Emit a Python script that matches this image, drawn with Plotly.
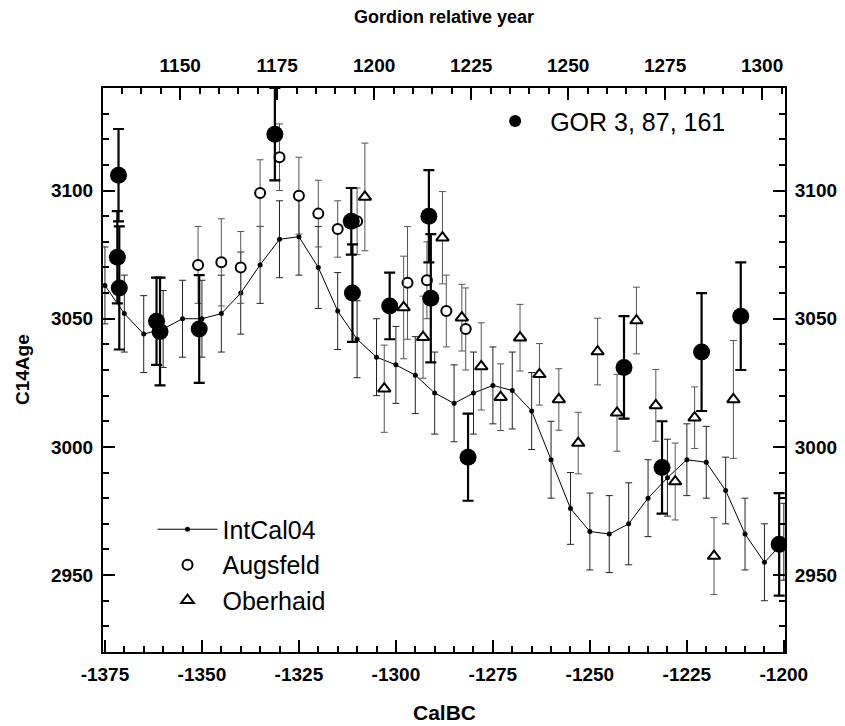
import plotly.graph_objects as go

# ---------------- data ----------------
intcal_x = [-1375, -1370, -1365, -1360, -1355, -1350, -1345, -1340, -1335, -1330,
            -1325, -1320, -1315, -1310, -1305, -1300, -1295, -1290, -1285, -1280,
            -1275, -1270, -1265, -1260, -1255, -1250, -1245, -1240, -1235, -1230,
            -1225, -1220, -1215, -1210, -1205, -1200]
intcal_y = [3063, 3052, 3044, 3046, 3050, 3050, 3052, 3060, 3071, 3081,
            3082, 3070, 3053, 3042, 3035, 3032, 3028, 3021, 3017, 3021,
            3024, 3022, 3014, 2995, 2976, 2967, 2966, 2970, 2980, 2988,
            2995, 2994, 2983, 2966, 2955, 2963]
intcal_err = [15, 15, 15, 15, 15, 15, 15, 16, 15, 15,
              15, 16, 15, 15, 15, 15, 15, 16, 15, 16,
              15, 15, 15, 15, 14, 15, 15, 16, 15, 15,
              14, 14, 13, 14, 15, 15]

augs_x = [-1351, -1345, -1340, -1335, -1330, -1325, -1320, -1315, -1310,
          -1297, -1292, -1287, -1282]
augs_y = [3071, 3072, 3070, 3099, 3113, 3098, 3091, 3085, 3088,
          3064, 3065, 3053, 3046]
augs_err = [15, 17, 14, 13, 13, 15, 13, 11, 13,
            22, 15, 14, 16]

ober_x = [-1308, -1303, -1298, -1293, -1288, -1283, -1278, -1273, -1268, -1263,
          -1258, -1253, -1248, -1243, -1238, -1233, -1228, -1223, -1218, -1213]
ober_y = [3097.5, 3022.7, 3054.4, 3042.8, 3081.6, 3050.4, 3031.4, 3019.4, 3042.6, 3028.3,
          3018.5, 3001.5, 3037.2, 3013.3, 3049.3, 3016.2, 2986.5, 3011.4, 2957.4, 3018.5]
ober_err = [21, 17, 20, 16, 18, 13, 17, 13, 13, 12,
            12, 12, 13, 15, 13, 14, 15, 12, 15, 23]

gor_x = [-1371.5, -1371.8, -1371.3, -1361.7, -1360.8, -1350.7, -1331.2, -1311.5, -1311.2,
         -1301.6, -1291.5, -1291.0, -1281.4, -1241.2, -1231.4, -1221.2, -1211.1, -1201.2]
gor_y = [3106, 3074, 3062, 3049, 3045, 3046, 3122, 3088, 3060,
         3055, 3090, 3058, 2996, 3031, 2992, 3037, 3051, 2962]
gor_err = [18, 18, 24, 17, 21, 21, 18, 13, 19,
           13, 18, 25, 17, 20, 18, 23, 21, 20]

x_tick_vals = [-1375, -1350, -1325, -1300, -1275, -1250, -1225, -1200]
x_tick_text = ["-1375", "-1350", "-1325", "-1300", "-1275", "-1250", "-1225", "-1200"]
top_tick_vals = [1150, 1175, 1200, 1225, 1250, 1275, 1300]
top_tick_text = ["1150", "1175", "1200", "1225", "1250", "1275", "1300"]
y_tick_vals = [2950, 3000, 3050, 3100]
y_tick_text = ["2950", "3000", "3050", "3100"]

x_range = [-1375.5, -1199.7]
gordion_offset = 2505.6
y_range = [2920, 3140]

FONT = "Liberation Sans, Arial, sans-serif"

fig = go.Figure()

fig.add_trace(go.Scatter(
    x=intcal_x, y=intcal_y, name="IntCal04", mode="lines+markers",
    line=dict(color="black", width=1),
    marker=dict(size=5, color="black"),
    error_y=dict(type="data", array=intcal_err, color="#222", thickness=1, width=3.5),
    legend="legend"))

fig.add_trace(go.Scatter(
    x=augs_x, y=augs_y, name="Augsfeld", mode="markers",
    marker=dict(symbol="circle", size=10, color="white", line=dict(color="black", width=2)),
    error_y=dict(type="data", array=augs_err, color="#555", thickness=1, width=3.5),
    legend="legend"))

fig.add_trace(go.Scatter(
    x=ober_x, y=ober_y, name="Oberhaid", mode="markers",
    marker=dict(symbol="triangle-up", size=11, color="white", line=dict(color="black", width=2)),
    error_y=dict(type="data", array=ober_err, color="#555", thickness=1, width=3.5),
    legend="legend"))

fig.add_trace(go.Scatter(
    x=gor_x, y=gor_y, name="GOR 3, 87, 161", mode="markers",
    marker=dict(symbol="circle", size=17, color="black"),
    error_y=dict(type="data", array=gor_err, color="black", thickness=2.2, width=5.5),
    legend="legend2"))

# invisible helper so that the top (Gordion) and right axes are drawn
fig.add_trace(go.Scatter(
    x=[x_range[0] + gordion_offset], y=[y_range[0]], xaxis="x2", yaxis="y2",
    mode="markers", marker=dict(opacity=0), showlegend=False, hoverinfo="skip"))

tickfont = dict(family=FONT, size=19, color="black", weight="bold")
common = dict(showgrid=False, zeroline=False, showline=True, linewidth=2, linecolor="black",
              ticks="inside", ticklen=12, tickwidth=2, tickcolor="black", tickfont=tickfont,
              automargin=False)

# the page body has an 8px margin: the figure is sized so the plot frame lands
# where the reference has it
fig.update_layout(
    width=837, height=718,
    margin=dict(l=95, r=60, t=80, b=74),
    paper_bgcolor="white", plot_bgcolor="white",
    font=dict(family=FONT, color="black"),
    xaxis=dict(range=x_range, tickmode="array", tickvals=x_tick_vals, ticktext=x_tick_text,
               minor=dict(tick0=-1375, dtick=5, ticks="inside", ticklen=6, tickwidth=1.5,
                          tickcolor="black", showgrid=False),
               ticklabelstandoff=4, **common),
    xaxis2=dict(range=[x_range[0] + gordion_offset, x_range[1] + gordion_offset],
                overlaying="x", side="top", anchor="y2",
                tickmode="array", tickvals=top_tick_vals, ticktext=top_tick_text,
                minor=dict(tick0=1150, dtick=5, ticks="inside", ticklen=6, tickwidth=1.5,
                           tickcolor="black", showgrid=False),
                ticklabelstandoff=6, **common),
    yaxis=dict(range=y_range, tickmode="array", tickvals=y_tick_vals, ticktext=y_tick_text,
               minor=dict(tick0=2950, dtick=10, ticks="inside", ticklen=6, tickwidth=1.5,
                          tickcolor="black", showgrid=False),
               ticklabelstandoff=4, **common),
    yaxis2=dict(range=y_range, overlaying="y", side="right", anchor="x2",
                tickmode="array", tickvals=y_tick_vals, ticktext=y_tick_text,
                minor=dict(tick0=2950, dtick=10, ticks="inside", ticklen=6, tickwidth=1.5,
                           tickcolor="black", showgrid=False),
                ticklabelstandoff=4, **common),
    legend=dict(x=0.0726, y=0.258, xanchor="left", yanchor="top",
                bgcolor="rgba(0,0,0,0)", borderwidth=0,
                font=dict(family=FONT, size=25, color="black"),
                itemsizing="trace", itemwidth=60, tracegroupgap=0),
    legend2=dict(x=0.553, y=0.982, xanchor="left", yanchor="top",
                 bgcolor="rgba(0,0,0,0)", borderwidth=0,
                 font=dict(family=FONT, size=25, color="black"),
                 itemsizing="constant", itemwidth=60),
    showlegend=True,
    annotations=[
        dict(text="CalBC", xref="paper", yref="paper", x=0.5, y=(652 - 712) / 564,
             xanchor="center", yanchor="middle", showarrow=False,
             font=dict(family=FONT, size=21, color="black", weight="bold")),
        dict(text="Gordion relative year", xref="paper", yref="paper", x=0.5, y=(652 - 17) / 564,
             xanchor="center", yanchor="middle", showarrow=False,
             font=dict(family=FONT, size=18, color="black", weight="bold")),
        dict(text="C14Age", xref="paper", yref="paper", x=(22 - 103) / 682, y=(652 - 370) / 564,
             xanchor="center", yanchor="middle", showarrow=False, textangle=-90,
             font=dict(family=FONT, size=19, color="black", weight="bold")),
    ],
)

fig.write_html("out.html")
